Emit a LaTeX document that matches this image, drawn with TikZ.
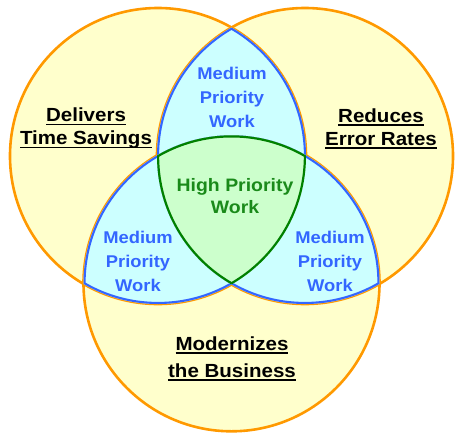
\documentclass[tikz,border=0pt]{standalone}
\usepackage{fontspec}
\setmainfont{Liberation Sans}[FakeStretch=1.08]
\usepackage{tikz}
\definecolor{paleyellow}{HTML}{FFFFCC}
\definecolor{ringorange}{HTML}{FF9900}
\definecolor{palecyan}{HTML}{CCFFFF}
\definecolor{mediumblue}{HTML}{3366FF}
\definecolor{palegreen}{HTML}{CCFFCC}
\definecolor{highgreen}{HTML}{008000}
\definecolor{hightext}{HTML}{1A8A1A}
% thick underline for the goal labels
\newcommand{\goalline}[1]{\setbox0\hbox{#1}\rlap{\rule[-3.5pt]{\wd0}{1.6pt}}\box0}
\tikzstyle{goal} = [font=\bfseries\fontsize{19}{23}\selectfont, align=center, text=black, inner sep=0pt]
\tikzstyle{medium} = [font=\bfseries\fontsize{17}{24}\selectfont, align=center, text=mediumblue, inner sep=0pt]
\tikzstyle{high} = [font=\bfseries\fontsize{18}{22}\selectfont, align=center, text=hightext, inner sep=0pt]
\tikzstyle{ring} = [draw=ringorange, line width=2.6pt]
% the three goal circles
\newcommand{\ringL}{(158,156) circle (148pt)}
\newcommand{\ringR}{(305,156) circle (148pt)}
\newcommand{\ringB}{(231.5,283.3) circle (148pt)}

\begin{document}
\begin{tikzpicture}[x=1pt, y=-1pt]
        \useasboundingbox (0,0) rectangle (455,437);
        % Fill circles
        \fill [paleyellow] \ringL;
        \fill [paleyellow] \ringR;
        \fill [paleyellow] \ringB;
        \path [ring] \ringL;
        \path [ring] \ringR;
        \path [ring] \ringB;
        % Pairwise overlaps
        \begin{scope}
            \clip \ringL; \clip \ringR;
            \fill [palecyan] \ringL;
            \draw [mediumblue, line width=4.2pt] \ringL \ringR;
        \end{scope}
        \begin{scope}
            \clip \ringL; \clip \ringB;
            \fill [palecyan] \ringL;
            \draw [mediumblue, line width=4.2pt] \ringL \ringB;
        \end{scope}
        \begin{scope}
            \clip \ringR; \clip \ringB;
            \fill [palecyan] \ringR;
            \draw [mediumblue, line width=4.2pt] \ringR \ringB;
        \end{scope}
        % Common part of all three
        \begin{scope}
            \clip \ringL; \clip \ringR; \clip \ringB;
            \fill [palegreen] \ringL;
            \draw [highgreen, line width=4.4pt] \ringL \ringR \ringB;
        \end{scope}
        % Place nodes
        \node [goal] (time) at (86,128.5) {\goalline{Delivers}\\\goalline{Time Savings}};
        \node [goal] (error) at (381,128.5) {\goalline{Reduces}\\\goalline{Error Rates}};
        \node [goal] (modern) at (232,358.5) {\goalline{Modernizes}\\[4pt]\goalline{the Business}};
        \node [medium] (medtop) at (232,97) {Medium\\Priority\\Work};
        \node [medium] (medleft) at (138,261) {Medium\\Priority\\Work};
        \node [medium] (medright) at (330,261) {Medium\\Priority\\Work};
        \node [high] (high) at (235,196) {High Priority\\Work};
    \end{tikzpicture}
\end{document}
